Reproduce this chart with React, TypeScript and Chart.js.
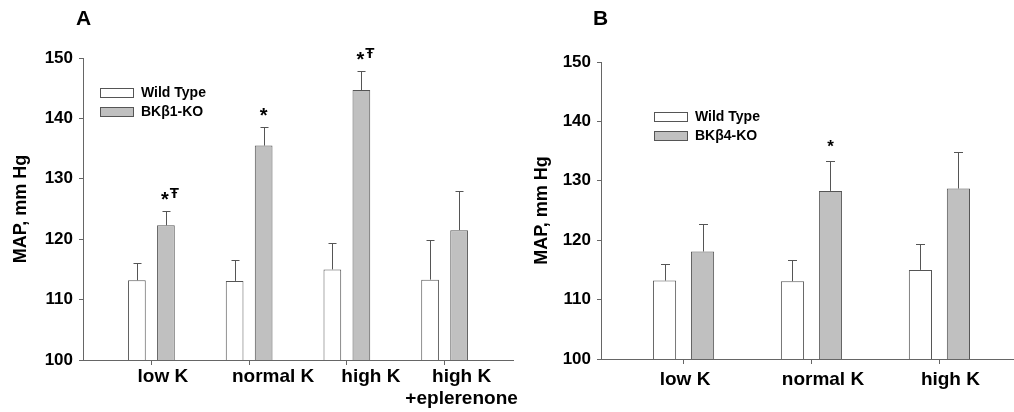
import React, { useEffect, useRef } from 'react';
import { Chart, registerables } from 'chart.js';

Chart.register(...registerables);

const FONT = "'Liberation Sans', Arial, Helvetica, sans-serif";
const EDGE = '#555555';
const AXIS = '#666666';
const KO_FILL = '#c0c0c0';

// ---- Panel A data ----
const categoriesA = ['low K', 'normal K', 'high K', 'high K\n+eplerenone'];
const wildTypeA = [113.2, 113.1, 115.0, 113.3];
const wildTypeErrA = [2.8, 3.5, 4.3, 6.5];
const knockoutA = [122.3, 135.5, 144.7, 121.5];
const knockoutErrA = [2.4, 3.1, 3.2, 6.5];
const marksA = ['*Ŧ', '*', '*Ŧ', ''];
const legendLabelsA = ['Wild Type', 'BKβ1-KO'];

// ---- Panel B data ----
const categoriesB = ['low K', 'normal K', 'high K'];
const wildTypeB = [113.2, 113.1, 115.0];
const wildTypeErrB = [2.8, 3.5, 4.4];
const knockoutB = [118.1, 128.3, 128.7];
const knockoutErrB = [4.7, 5.0, 6.1];
const marksB = ['', '*', ''];
const legendLabelsB = ['Wild Type', 'BKβ4-KO'];

const yMin = 100;
const yMax = 150;
const yStep = 10;
const yTitle = 'MAP, mm Hg';

type PanelSpec = {
  letter: string;
  categories: string[];
  wt: number[];
  wtErr: number[];
  ko: number[];
  koErr: number[];
  marks: string[];
  legend: string[];
  left: number;
  width: number;
  height: number;
  padTop: number;
  padRight: number;
  yWidth: number;
  xHeight: number;
  xMin: number;
  xMax: number;
  letterX: number;
  letterY: number;
  legendX: number;
  legendY: number;
  legendGap: number;
  starSize: number;
  starGap: number;
  cap: number;
  titlePad: number;
  labelShift: number[];
  labelBaseline: number;
  labelLine: number;
};

const panelA: PanelSpec = {
  letter: 'A',
  categories: categoriesA,
  wt: wildTypeA,
  wtErr: wildTypeErrA,
  ko: knockoutA,
  koErr: knockoutErrA,
  marks: marksA,
  legend: legendLabelsA,
  left: 0,
  width: 520,
  height: 412,
  padTop: 58,
  padRight: 7,
  yWidth: 83,
  xHeight: 52,
  xMin: -0.7,
  xMax: 3.7,
  letterX: 76,
  letterY: 25,
  legendX: 100,
  legendY: 88,
  legendGap: 19,
  starSize: 20,
  starGap: 16,
  cap: 8,
  titlePad: 10,
  labelShift: [11.5, 24, 24, 17],
  labelBaseline: 382,
  labelLine: 22,
};

const panelB: PanelSpec = {
  letter: 'B',
  categories: categoriesB,
  wt: wildTypeB,
  wtErr: wildTypeErrB,
  ko: knockoutB,
  koErr: knockoutErrB,
  marks: marksB,
  legend: legendLabelsB,
  left: 520,
  width: 494,
  height: 412,
  padTop: 62,
  padRight: 1,
  yWidth: 81,
  xHeight: 53,
  xMin: -0.645,
  xMax: 2.575,
  letterX: 73,
  letterY: 25,
  legendX: 134,
  legendY: 112,
  legendGap: 19,
  starSize: 17,
  starGap: 19,
  cap: 9,
  titlePad: 11,
  labelShift: [1.5, 11.5, 11],
  labelBaseline: 385,
  labelLine: 22,
};

function extrasPlugin(p: PanelSpec) {
  return {
    id: 'panelExtras',
    afterDatasetsDraw(chart: any) {
      const ctx = chart.ctx as CanvasRenderingContext2D;
      const ys = chart.scales.y;
      const xs = chart.scales.x;
      ctx.save();
      // error bars (upper only)
      ctx.strokeStyle = EDGE;
      ctx.lineWidth = 1;
      const vals = [p.wt, p.ko];
      const errs = [p.wtErr, p.koErr];
      for (let d = 0; d < 2; d++) {
        const meta = chart.getDatasetMeta(d);
        meta.data.forEach((bar: any, i: number) => {
          const x = Math.round(bar.x) + 0.5;
          const y0 = ys.getPixelForValue(vals[d][i]);
          const y1 = Math.round(ys.getPixelForValue(vals[d][i] + errs[d][i])) + 0.5;
          ctx.beginPath();
          ctx.moveTo(x, y0);
          ctx.lineTo(x, y1);
          ctx.moveTo(x - p.cap / 2, y1);
          ctx.lineTo(x + p.cap / 2, y1);
          ctx.stroke();
        });
      }
      // significance marks
      ctx.fillStyle = '#000';
      const koMeta = chart.getDatasetMeta(1);
      koMeta.data.forEach((bar: any, i: number) => {
        const m = p.marks[i];
        if (!m) return;
        const top = ys.getPixelForValue(p.ko[i] + p.koErr[i]);
        const cy = top - p.starGap;
        const rest = m.slice(1);
        ctx.textAlign = 'center';
        ctx.textBaseline = 'alphabetic';
        ctx.font = `bold ${p.starSize}px ${FONT}`;
        const sx = rest ? bar.x - 1 : bar.x;
        ctx.fillText('*', sx, cy + p.starSize * 0.575);
        if (rest) {
          ctx.font = `bold 15px ${FONT}`;
          ctx.fillText(rest, bar.x + 8.5, cy + 3);
        }
      });
      // category labels under the axis
      ctx.fillStyle = '#000';
      ctx.textAlign = 'center';
      ctx.textBaseline = 'alphabetic';
      ctx.font = `bold 19px ${FONT}`;
      p.categories.forEach((cat, i) => {
        const px = xs.getPixelForValue(i) + p.labelShift[i];
        cat.split('\n').forEach((line, j) => {
          ctx.fillText(line, px, p.labelBaseline + j * p.labelLine);
        });
      });
      // panel letter
      ctx.textAlign = 'left';
      ctx.textBaseline = 'alphabetic';
      ctx.font = `bold 21px ${FONT}`;
      ctx.fillText(p.letter, p.letterX, p.letterY);
      // legend
      const fills = ['#ffffff', KO_FILL];
      p.legend.forEach((label, i) => {
        const by = p.legendY + i * p.legendGap;
        ctx.fillStyle = fills[i];
        ctx.fillRect(p.legendX + 0.5, by + 0.5, 33, 9);
        ctx.strokeStyle = EDGE;
        ctx.strokeRect(p.legendX + 0.5, by + 0.5, 33, 9);
        ctx.fillStyle = '#000';
        ctx.font = `bold 14px ${FONT}`;
        ctx.textBaseline = 'middle';
        ctx.fillText(label, p.legendX + 41, by + 5.5);
      });
      ctx.restore();
    },
  };
}

function buildConfig(p: PanelSpec): any {
  const idx = p.categories.map((_, i) => i);
  return {
    type: 'bar',
    data: {
      datasets: [
        {
          label: p.legend[0],
          data: p.wt.map((v, i) => ({ x: i, y: v })),
          backgroundColor: '#ffffff',
          borderColor: EDGE,
          borderWidth: 1,
          categoryPercentage: 0.594,
          barPercentage: 0.61,
        },
        {
          label: p.legend[1],
          data: p.ko.map((v, i) => ({ x: i, y: v })),
          backgroundColor: KO_FILL,
          borderColor: EDGE,
          borderWidth: 1,
          categoryPercentage: 0.594,
          barPercentage: 0.61,
        },
      ],
    },
    options: {
      responsive: false,
      maintainAspectRatio: false,
      animation: false,
      layout: { padding: { top: p.padTop, right: p.padRight, left: 0, bottom: 0 } },
      plugins: {
        legend: { display: false },
        title: { display: false },
        tooltip: { enabled: false },
      },
      scales: {
        x: {
          type: 'linear',
          min: p.xMin,
          max: p.xMax,
          offset: false,
          afterBuildTicks: (scale: any) => {
            scale.ticks = idx.map((v) => ({ value: v }));
          },
          afterFit: (scale: any) => {
            scale.height = p.xHeight;
          },
          grid: {
            display: true,
            offset: false,
            drawOnChartArea: false,
            drawTicks: true,
            tickLength: 5,
            color: AXIS,
          },
          border: { display: true, color: AXIS, width: 1 },
          ticks: { display: false },
        },
        y: {
          type: 'linear',
          min: yMin,
          max: yMax,
          afterFit: (scale: any) => {
            scale.width = p.yWidth;
          },
          grid: { display: true, drawOnChartArea: false, drawTicks: true, tickLength: 4, color: AXIS },
          border: { display: true, color: AXIS, width: 1 },
          ticks: {
            stepSize: yStep,
            padding: 6,
            color: '#000',
            font: { family: FONT, size: 17, weight: 'bold' },
          },
          title: {
            display: true,
            text: yTitle,
            color: '#000',
            font: { family: FONT, size: 18, weight: 'bold' },
            padding: { top: p.titlePad, bottom: 0 },
          },
        },
      },
    },
    plugins: [extrasPlugin(p)],
  };
}

function Panel({ p }: { p: PanelSpec }) {
  const ref = useRef<HTMLCanvasElement | null>(null);
  useEffect(() => {
    if (!ref.current) return;
    const chart = new Chart(ref.current, buildConfig(p));
    return () => chart.destroy();
  }, [p]);
  return (
    <canvas
      ref={ref}
      width={p.width}
      height={p.height}
      style={{ position: 'absolute', left: p.left, top: 0, width: p.width, height: p.height }}
    />
  );
}

export default function App() {
  return (
    <div
      style={{
        position: 'fixed',
        left: 0,
        top: 0,
        width: 1014,
        height: 412,
        background: '#ffffff',
        overflow: 'hidden',
      }}
    >
      <Panel p={panelA} />
      <Panel p={panelB} />
    </div>
  );
}
